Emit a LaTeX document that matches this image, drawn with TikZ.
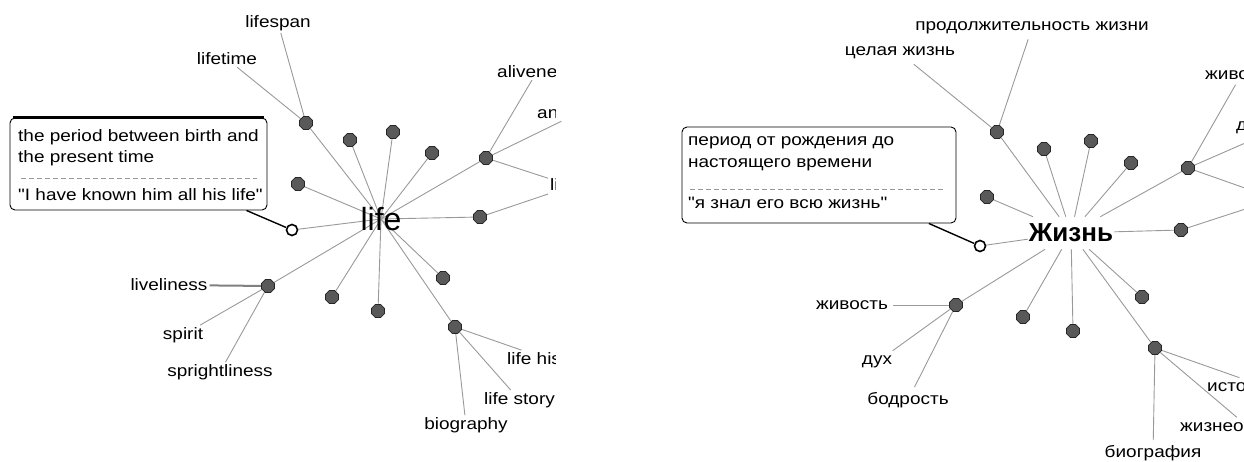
\documentclass[tikz,border=0pt]{standalone}
\usepackage{fontspec}
\setmainfont{Liberation Sans}[FakeStretch=1.15, Ligatures=TeXOff]
\newfontfamily\hubfont{Liberation Sans}
\usetikzlibrary{shapes.geometric}

\pgfdeclarelayer{background}
\pgfsetlayers{background,main}

\definecolor{edgegray}{gray}{0.6}
\definecolor{dotfill}{gray}{0.35}
\definecolor{dotline}{gray}{0.15}

\tikzset{
  sense/.style={regular polygon, regular polygon sides=8, minimum size=14pt,
    inner sep=0pt, fill=dotfill, draw=dotline, line width=0.8pt},
  opensense/.style={circle, minimum size=11pt, inner sep=0pt, fill=white,
    draw=black, line width=1.6pt},
  word/.style={inner sep=2pt, font=\fontsize{16.5}{20}\selectfont},
  ruword/.style={word, inner sep=5pt},
  link/.style={draw=edgegray, line width=0.9pt},
  gloss/.style={draw=black, rounded corners=5pt, line width=0.9pt, fill=white,
    inner sep=0pt},
  glosstext/.style={anchor=west, inner sep=0pt, font=\fontsize{16.5}{20}\selectfont},
}

\begin{document}
\begin{tikzpicture}[x=1pt,y=-1pt]
  \useasboundingbox (0,0) rectangle (1244,462);

  % english map
  \begin{scope}
    \clip (0,0) rectangle (555,462);
    \node[font=\hubfont\fontsize{32}{36}\selectfont, inner sep=0pt] (life) at (381,219) {life};

    \node[sense] (s1) at (306,123) {};
    \node[sense] (s2) at (350,140) {};
    \node[sense] (s3) at (393,132) {};
    \node[sense] (s4) at (432,153) {};
    \node[sense] (s5) at (486,158) {};
    \node[sense] (s6) at (298,184) {};
    \node[sense] (s7) at (480,217) {};
    \node[opensense] (s8) at (292,230) {};
    \node[sense] (s9) at (268,286) {};
    \node[sense] (s10) at (332,297) {};
    \node[sense] (s11) at (378,311) {};
    \node[sense] (s12) at (443,278) {};
    \node[sense] (s13) at (455,327) {};

    \node[word] (lifespan) at (278,23) {lifespan};
    \node[word] (lifetime) at (227,59) {lifetime};
    \node[word, anchor=west] (aliveness) at (495,72) {aliveness};
    \node[word, anchor=west] (animation) at (535,113) {animation};
    \node[word, anchor=west] (living) at (548,186) {living};
    \node[word] (liveliness) at (169,285) {liveliness};
    \node[word] (spirit) at (183,335) {spirit};
    \node[word] (sprightliness) at (220,372) {sprightliness};
    \node[word, anchor=west] (lifehistory) at (505,360) {life history};
    \node[word, anchor=west] (lifestory) at (482,400) {life story};
    \node[word] (biography) at (466,425) {biography};

    % definition card
    \node[gloss, minimum width=257pt, minimum height=92pt] (glossen) at (138.5,164) {};
    \draw[line width=3pt] ([xshift=3pt]glossen.north west) -- ([xshift=-3pt]glossen.north east);
    \node[glosstext] (defen) at (18,137) {the period between birth and};
    \node[glosstext] (defen2) at (18,158) {the present time};
    \draw[edgegray, dash pattern=on 5pt off 3pt] (21,178) -- (257,178);
    \node[glosstext] (exen) at (18,195) {"I have known him all his life"};

    \begin{pgfonlayer}{background}
      \draw[link] (s1) -- (life.center);
      \draw[link] (s2) -- (life.center);
      \draw[link] (s3) -- (life.center);
      \draw[link] (s4) -- (life.center);
      \draw[link] (s5) -- (life.center);
      \draw[link] (s6) -- (life.center);
      \draw[link] (s7) -- (life.center);
      \draw[link] (s8) -- (life.center);
      \draw[link] (s9) -- (life.center);
      \draw[link] (s10) -- (life.center);
      \draw[link] (s11) -- (life.center);
      \draw[link] (s12) -- (life.center);
      \draw[link] (s13) -- (life.center);
      \draw[link] (s1) -- (lifetime);
      \draw[link] (s1) -- (lifespan);
      \draw[link] (s5) -- (aliveness);
      \draw[link] (s5) -- (animation);
      \draw[link] (s5) -- (living);
      \draw[link] (s7) -- (living);
      \draw[link, line width=2pt, draw=gray] (s9) -- (liveliness);
      \draw[link] (s9) -- (spirit);
      \draw[link] (s9) -- (sprightliness);
      \draw[link] (s13) -- (lifehistory);
      \draw[link] (s13) -- (lifestory);
      \draw[link] (s13) -- (biography);
    \end{pgfonlayer}
    \draw[black, line width=1.4pt] (glossen) -- (s8);
  \end{scope}

  % russian map
  \begin{scope}
    \clip (622,0) rectangle (1244,462);
    \node[font=\hubfont\bfseries\fontsize{26}{30}\selectfont, inner xsep=1pt, inner ysep=7pt] (zhizn) at (1071,233) {Жизнь};

    \node[sense] (r1) at (997,132) {};
    \node[sense] (r2) at (1044,149) {};
    \node[sense] (r3) at (1091,141) {};
    \node[sense] (r4) at (1131,163) {};
    \node[sense] (r5) at (1188,168) {};
    \node[sense] (r6) at (987,197) {};
    \node[sense] (r7) at (1181,230) {};
    \node[opensense] (r8) at (980,246) {};
    \node[sense] (r9) at (956,305) {};
    \node[sense] (r10) at (1023,317) {};
    \node[sense] (r11) at (1073,331) {};
    \node[sense] (r12) at (1142,297) {};
    \node[sense] (r13) at (1155,348) {};

    \node[ruword] (prodolzh) at (1032,28) {продолжительность жизни};
    \node[ruword] (tselaya) at (900,53) {целая жизнь};
    \node[ruword, anchor=west] (zhivo) at (1200,75) {живость};
    \node[ruword, anchor=west] (dvizh) at (1231,128) {движение};
    \coordinate (vital) at (1276,199);
    \node[ruword] (zhivost) at (852,305) {живость};
    \node[ruword] (dukh) at (877,362) {дух};
    \node[ruword] (bodrost) at (908,400) {бодрость};
    \node[ruword, anchor=west] (istoriya) at (1202,389) {история жизни};
    \node[ruword, anchor=west] (zhizneop) at (1175,427) {жизнеописание};
    \node[ruword] (biografiya) at (1153,453) {биография};

    % definition card
    \node[gloss, minimum width=274pt, minimum height=96pt] (glossru) at (819,175) {};
    \node[glosstext] (defru) at (688,143) {период от рождения до};
    \node[glosstext] (defru2) at (688,165) {настоящего времени};
    \draw[edgegray, dash pattern=on 5pt off 3pt] (690,189) -- (943,189);
    \node[glosstext] (exru) at (688,203) {"я знал его всю жизнь"};

    \begin{pgfonlayer}{background}
      \draw[link] (r1) -- (zhizn);
      \draw[link] (r2) -- (zhizn);
      \draw[link] (r3) -- (zhizn);
      \draw[link] (r4) -- (zhizn);
      \draw[link] (r5) -- (zhizn);
      \draw[link] (r6) -- (zhizn);
      \draw[link] (r7) -- (zhizn);
      \draw[link] (r8) -- (zhizn);
      \draw[link] (r9) -- (zhizn);
      \draw[link] (r10) -- (zhizn);
      \draw[link] (r11) -- (zhizn);
      \draw[link] (r12) -- (zhizn);
      \draw[link] (r13) -- (zhizn);
      \draw[link] (r1) -- (tselaya);
      \draw[link] (r1) -- (prodolzh);
      \draw[link] (r5) -- (zhivo);
      \draw[link] (r5) -- (dvizh);
      \draw[link] (r5) -- (vital);
      \draw[link] (r7) -- (vital);
      \draw[link] (r9) -- (zhivost);
      \draw[link] (r9) -- (dukh);
      \draw[link] (r9) -- (bodrost);
      \draw[link] (r13) -- (istoriya);
      \draw[link] (r13) -- (zhizneop);
      \draw[link] (r13) -- (biografiya);
    \end{pgfonlayer}
    \draw[black, line width=1.4pt] (glossru) -- (r8);
  \end{scope}
\end{tikzpicture}
\end{document}
